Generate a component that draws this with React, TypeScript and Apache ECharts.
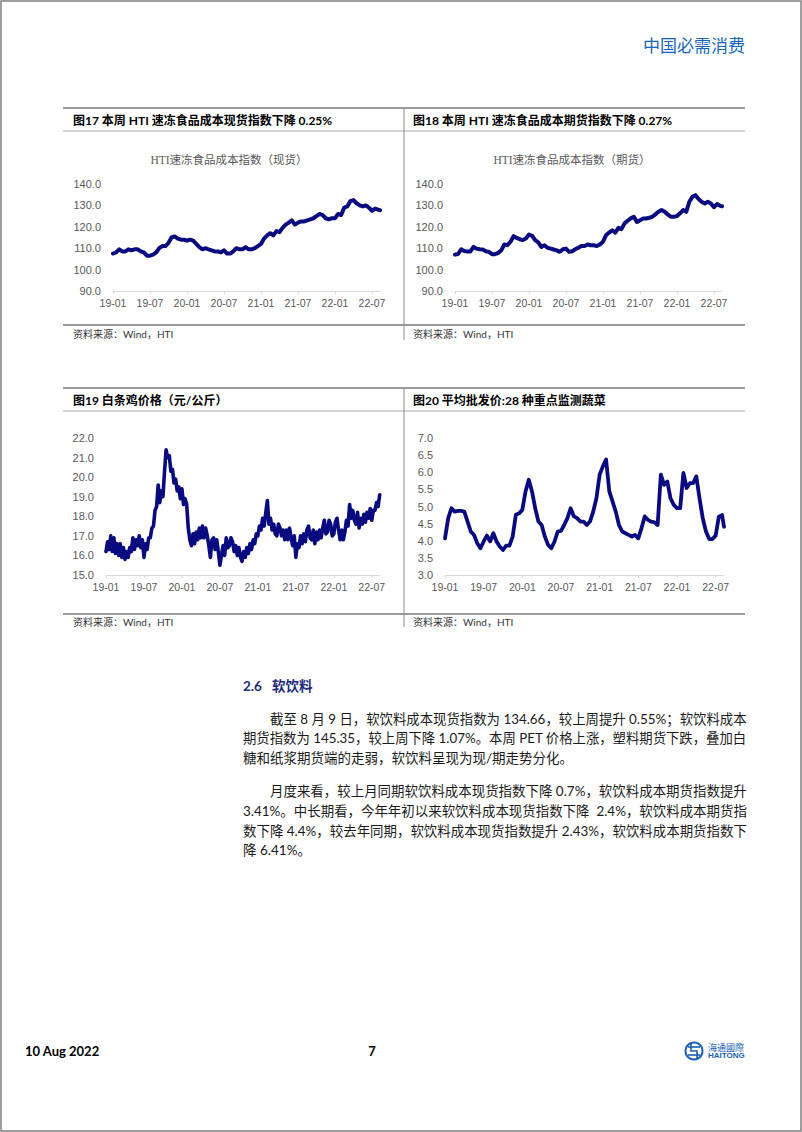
import { useEffect, useRef } from "react";
import * as echarts from "echarts";

// ---------- data ----------
const X_TICK_LABELS = ["19-01", "19-07", "20-01", "20-07", "21-01", "21-07", "22-01", "22-07"];
const X_TICK_STEP = 6; // months between labels
const X_END = 43.3; // months since 2019-01 (last obs. 2022-08-09)

// HTI 速冻食品成本指数（现货）, half-month observations
const SPOT_STEP = 0.5;
const SPOT_INDEX = [
  107.5, 108, 109.5, 108.5, 108.5, 109.5, 109, 109.5, 109.5, 108.5,
  108, 106.5, 106.5, 107, 108, 110, 111, 111, 112.5, 115,
  115.5, 114.5, 114, 114, 113.5, 114, 113.5, 112, 110.5, 109.5,
  110, 109.5, 109, 108.5, 108.5, 108, 109, 107.5, 107.5, 108.5,
  110, 109.5, 109.5, 110.5, 109.5, 109.5, 110, 111, 112, 114.5,
  116, 117, 116, 118, 117.5, 119.5, 121, 122, 123, 121,
  122, 122.5, 122.5, 123, 123.5, 124, 125, 126, 125.5, 124,
  123.5, 124, 124, 126, 125.5, 129, 129.5, 132, 132.5, 131,
  130, 129.5, 130, 129, 127.5, 128.5, 128, 127.8,
];

// HTI 速冻食品成本指数（期货）
const FUT_STEP = 0.5;
const FUT_INDEX = [
  107, 107.3, 109.5, 108.7, 108.5, 108.5, 110.6, 109.8, 109.5, 109.4,
  108.6, 108.3, 107.2, 107.2, 107.8, 109, 111.7, 111.4, 113, 115.6,
  114.8, 114.2, 113.8, 114.5, 116.4, 115.8, 113.8, 112.7, 110.6, 111.4,
  110.2, 109.8, 109.4, 109, 108.3, 109.5, 109.8, 108.3, 108.6, 109.5,
  110.2, 111, 111, 111.7, 111.4, 111.4, 111, 111.7, 113, 116.1,
  117.3, 118.4, 117.3, 119.5, 118.9, 121.6, 122.8, 124, 124.7, 122.3,
  123.1, 123.9, 123.9, 124.2, 124.7, 125.8, 127, 127.8, 127, 125.8,
  124.7, 124.7, 125, 126.3, 127.8, 127, 131.7, 134, 134.8, 133,
  131.7, 130.9, 131.7, 130.9, 129.2, 130.6, 129.8, 129.6,
];

// 白条鸡价格（元/公斤）, quarter-month observations
const CHICKEN_STEP = 0.25;
const CHICKEN_PRICE = [
  16.2, 16.7, 16.3, 17.0, 16.2, 16.9, 16.1, 16.6, 16.0, 16.6, 15.9, 16.4, 15.8, 16.2, 15.9, 16.4, 16.2, 16.9, 16.3, 16.8,
  16.5, 17.0, 16.4, 16.8, 15.9, 16.6, 16.3, 16.9, 16.9, 17.4, 17.5, 18.3, 18.5, 19.6, 18.7, 19.3, 19.0, 20.3, 21.4, 21.0,
  21.1, 20.3, 20.4, 19.7, 19.9, 19.3, 19.5, 18.9, 19.4, 18.6, 18.9, 18.6, 17.4, 16.8, 16.5, 17.1, 16.6, 17.2, 16.8, 17.4,
  16.9, 17.5, 16.9, 17.4, 17.0, 16.5, 15.9, 16.8, 16.9, 16.3, 16.8, 16.2, 15.5, 16.0, 16.5, 16.0, 16.9, 16.4, 16.5, 16.9,
  16.7, 16.2, 16.5, 16.0, 16.4, 15.9, 15.7, 16.2, 15.9, 16.4, 16.1, 16.6, 16.3, 16.8, 16.6, 17.1, 17.0, 17.5, 17.3, 17.9,
  17.5, 18.2, 18.8, 17.6, 17.9, 17.3, 17.6, 17.1, 17.0, 17.6, 17.4, 17.0, 17.3, 16.8, 17.3, 16.8, 17.4, 16.9, 16.5, 17.0,
  15.9, 16.6, 16.4, 17.0, 16.6, 17.1, 16.7, 17.3, 17.5, 16.9, 16.8, 17.3, 16.6, 17.2, 16.8, 17.3, 16.9, 17.4, 17.8, 17.1,
  17.2, 17.8, 17.6, 17.0, 17.1, 17.7, 17.9, 17.3, 16.8, 17.3, 16.8, 17.2, 17.8, 17.5, 18.6, 17.9, 18.3, 17.8, 17.6, 18.2,
  17.4, 17.9, 17.6, 18.1, 17.7, 18.2, 17.9, 18.4, 17.8, 18.3, 18.3, 18.7, 18.5, 19.1,
];

// 平均批发价:28种重点监测蔬菜
const VEG_STEP = 0.5;
const VEG_PRICE = [
  4.07, 4.66, 4.95, 4.85, 4.87, 4.87, 4.85, 4.56, 4.27, 4.17,
  3.93, 3.78, 3.98, 4.15, 3.98, 4.22, 3.98, 3.83, 3.73, 3.86,
  3.86, 4.12, 4.76, 4.8, 4.9, 5.44, 5.78, 5.44, 4.95, 4.56,
  4.46, 4.12, 3.88, 3.78, 3.98, 4.27, 4.29, 4.46, 4.66, 4.95,
  4.71, 4.66, 4.56, 4.56, 4.46, 4.56, 4.85, 5.24, 5.93, 6.17,
  6.37, 5.44, 5.15, 4.85, 4.46, 4.27, 4.22, 4.17, 4.12, 4.17,
  4.07, 4.37, 4.71, 4.61, 4.56, 4.54, 4.46, 5.93, 5.63, 5.73,
  5.24, 5.05, 4.95, 4.95, 5.98, 5.54, 5.68, 5.68, 5.88, 5.24,
  4.66, 4.27, 4.05, 4.05, 4.15, 4.7, 4.75, 4.41,
];

// y-axis ranges [min, max, interval]
const Y_SPOT = [90, 140, 10];
const Y_FUT = [90, 140, 10];
const Y_CHICKEN = [15, 22, 1];
const Y_VEG = [3, 7, 0.5];

// ---------- texts ----------
const HEADER = "中国必需消费";
const FIG_TITLES = [
  "图17 本周 HTI 速冻食品成本现货指数下降 0.25%",
  "图18 本周 HTI 速冻食品成本期货指数下降 0.27%",
  "图19 白条鸡价格（元/公斤）",
  "图20 平均批发价:28 种重点监测蔬菜",
];
const INNER_TITLES = ["HTI速冻食品成本指数（现货）", "HTI速冻食品成本指数（期货）"];
const SOURCE = "资料来源：Wind，HTI";
const SECTION_NO = "2.6";
const SECTION_NAME = "软饮料";
const PARAGRAPHS = [
  [
    "截至 8 月 9 日，软饮料成本现货指数为 134.66，较上周提升 0.55%；软饮料成本",
    "期货指数为 145.35，较上周下降 1.07%。本周 PET 价格上涨，塑料期货下跌，叠加白",
    "糖和纸浆期货端的走弱，软饮料呈现为现/期走势分化。",
  ],
  [
    "月度来看，较上月同期软饮料成本现货指数下降 0.7%，软饮料成本期货指数提升",
    "3.41%。中长期看，今年年初以来软饮料成本现货指数下降  2.4%，软饮料成本期货指",
    "数下降 4.4%，较去年同期，软饮料成本现货指数提升 2.43%，软饮料成本期货指数下",
    "降 6.41%。",
  ],
];
const FOOTER_DATE = "10 Aug 2022";
const PAGE_NO = "7";
const LOGO_CN = "海通國際";
const LOGO_EN = "HAITONG";

// ---------- styles ----------
const LINE_COLOR = "#0a0a80";
const AXIS_FONT = '"Liberation Sans", Arial, sans-serif';
const CJK_FONT = 'Lato, "Noto Sans CJK SC", sans-serif';
const SERIF_FONT = '"Liberation Serif", "Noto Sans CJK SC", serif';
const LABEL_COLOR = "#595959";

const GRIDS = [
  { left: 113, top: 184, width: 267, height: 107 },
  { left: 455, top: 184, width: 267, height: 107 },
  { left: 106, top: 438, width: 274, height: 137 },
  { left: 445, top: 438, width: 279, height: 137 },
];

function xAxis(gridIndex: number) {
  return {
    type: "value",
    gridIndex,
    min: 0,
    max: X_END,
    interval: X_TICK_STEP,
    axisLine: { show: true, lineStyle: { color: "#d9d9d9", width: 1 } },
    axisTick: { show: true, length: 3, lineStyle: { color: "#d9d9d9" } },
    splitLine: { show: false },
    axisLabel: {
      color: LABEL_COLOR,
      fontSize: 10.5,
      fontFamily: AXIS_FONT,
      margin: 6,
      showMaxLabel: false,
      formatter: (v: number) => {
        const k = Math.round(v / X_TICK_STEP);
        return Math.abs(v - k * X_TICK_STEP) < 1e-6 ? X_TICK_LABELS[k] ?? "" : "";
      },
    },
  };
}

function yAxis(gridIndex: number, r: number[]) {
  return {
    type: "value",
    gridIndex,
    min: r[0],
    max: r[1],
    interval: r[2],
    axisLine: { show: false },
    axisTick: { show: false },
    splitLine: { show: false },
    axisLabel: {
      color: LABEL_COLOR,
      fontSize: 11,
      fontFamily: AXIS_FONT,
      margin: 12,
      formatter: (v: number) => v.toFixed(1),
    },
  };
}

function lineSeries(i: number, values: number[], step: number, width: number) {
  return {
    type: "line",
    xAxisIndex: i,
    yAxisIndex: i,
    data: values.map((v, k) => [Math.min(k * step, X_END), v]),
    showSymbol: false,
    symbol: "none",
    clip: false,
    lineStyle: { color: LINE_COLOR, width, join: "round", cap: "round" },
    emphasis: { disabled: true },
  };
}

function txt(
  text: string,
  x: number,
  y: number,
  o: { size?: number; weight?: string; color?: string; family?: string; align?: string; scaleX?: number } = {}
) {
  const align = o.align ?? "left";
  return {
    type: "text",
    x,
    y,
    scaleX: o.scaleX ?? 1,
    silent: true,
    style: {
      text,
      fill: o.color ?? "#000",
      fontSize: o.size ?? 12,
      fontWeight: o.weight ?? "normal",
      fontFamily: o.family ?? CJK_FONT,
      align,
      verticalAlign: "middle",
      textAlign: align,
      textVerticalAlign: "middle",
    },
  };
}

function hline(x1: number, x2: number, y: number, color: string, w: number) {
  return { type: "line", silent: true, shape: { x1, y1: y, x2, y2: y }, style: { stroke: color, lineWidth: w } };
}
function vline(x: number, y1: number, y2: number, color: string, w: number) {
  return { type: "line", silent: true, shape: { x1: x, y1, x2: x, y2 }, style: { stroke: color, lineWidth: w } };
}

let measureCtx: CanvasRenderingContext2D | null = null;
function measure(text: string, font: string) {
  if (!measureCtx) measureCtx = document.createElement("canvas").getContext("2d");
  if (!measureCtx) return 0;
  measureCtx.font = font;
  return measureCtx.measureText(text).width;
}

function buildGraphic() {
  const g: any[] = [];
  // page frame
  g.push({ type: "rect", silent: true, shape: { x: 1, y: 1, width: 800, height: 1130 }, style: { fill: "none", stroke: "#808080", lineWidth: 1.5 } });
  // header
  g.push(txt(HEADER, 745, 45, { size: 17, color: "#1565c0", align: "right" }));

  // chart blocks
  const blocks = [
    { top: 108, sub: 131, bottom: 325, divEnd: 340, titleY: 120, srcY: 334 },
    { top: 388, sub: 411, bottom: 614, divEnd: 627, titleY: 400, srcY: 622 },
  ];
  blocks.forEach((b, bi) => {
    g.push(hline(63, 745, b.top, "#7a7a7a", 1.5));
    g.push(hline(63, 745, b.sub, "#a6a6a6", 1));
    g.push(hline(63, 745, b.bottom, "#7a7a7a", 1.5));
    g.push(vline(404, b.top, b.divEnd, "#8c8c8c", 1));
    g.push(txt(FIG_TITLES[bi * 2], 73, b.titleY, { size: 12, weight: "bold" }));
    g.push(txt(FIG_TITLES[bi * 2 + 1], 413, b.titleY, { size: 12, weight: "bold" }));
    g.push(txt(SOURCE, 73, b.srcY, { size: 10, color: "#333" }));
    g.push(txt(SOURCE, 413, b.srcY, { size: 10, color: "#333" }));
  });
  g.push(txt(INNER_TITLES[0], 229, 160, { size: 11.5, color: LABEL_COLOR, family: SERIF_FONT, align: "center" }));
  g.push(txt(INNER_TITLES[1], 572, 160, { size: 11.5, color: LABEL_COLOR, family: SERIF_FONT, align: "center" }));

  // section text
  g.push(txt(SECTION_NO, 243, 686, { size: 13.5, weight: "bold", color: "#1c2a80" }));
  g.push(txt(SECTION_NAME, 272, 686, { size: 13.5, weight: "bold", color: "#1c2a80" }));
  const bodySize = 13.5;
  const bodyFont = `${bodySize}px ${CJK_FONT}`;
  const left = 243;
  const right = 747;
  const lineH = 19.8;
  const paraStarts = [718.5, 791];
  PARAGRAPHS.forEach((lines, pi) => {
    let y = paraStarts[pi];
    lines.forEach((line, li) => {
      const x0 = li === 0 ? left + 2 * bodySize : left;
      const last = li === lines.length - 1;
      let sx = 1;
      if (!last) {
        const w = measure(line, bodyFont);
        if (w > 0) sx = Math.max(0.9, Math.min(1.1, (right - x0) / w));
      }
      g.push(txt(line, x0, y, { size: bodySize, color: "#1a1a1a", scaleX: sx }));
      y += lineH;
    });
  });

  // footer
  g.push(txt(FOOTER_DATE, 25, 1051, { size: 13, weight: "bold" }));
  g.push(txt(PAGE_NO, 372, 1051, { size: 13, weight: "bold", align: "center" }));
  // logo
  const lc = "#1a5fb4";
  g.push({ type: "circle", silent: true, shape: { cx: 694, cy: 1051, r: 8.5 }, style: { fill: "none", stroke: lc, lineWidth: 2 } });
  g.push({ type: "polyline", silent: true, shape: { points: [[688, 1047], [700, 1047]] }, style: { stroke: lc, lineWidth: 1.6, fill: "none" } });
  g.push({ type: "polyline", silent: true, shape: { points: [[688, 1055], [700, 1055]] }, style: { stroke: lc, lineWidth: 1.6, fill: "none" } });
  g.push({ type: "polyline", silent: true, shape: { points: [[691, 1044], [691, 1051], [697, 1051], [697, 1058]] }, style: { stroke: lc, lineWidth: 1.6, fill: "none" } });
  g.push(txt(LOGO_CN, 708, 1047, { size: 9, color: lc }));
  g.push(txt(LOGO_EN, 708, 1055.5, { size: 8, weight: "bold", color: lc, family: AXIS_FONT }));
  return g;
}

function buildOption() {
  return {
    animation: false,
    backgroundColor: "#ffffff",
    grid: GRIDS.map((gr) => ({ ...gr, containLabel: false })),
    xAxis: [0, 1, 2, 3].map((i) => xAxis(i)),
    yAxis: [yAxis(0, Y_SPOT), yAxis(1, Y_FUT), yAxis(2, Y_CHICKEN), yAxis(3, Y_VEG)],
    series: [
      lineSeries(0, SPOT_INDEX, SPOT_STEP, 4),
      lineSeries(1, FUT_INDEX, FUT_STEP, 4),
      lineSeries(2, CHICKEN_PRICE, CHICKEN_STEP, 3.6),
      lineSeries(3, VEG_PRICE, VEG_STEP, 3.8),
    ],
    graphic: { elements: buildGraphic() },
  };
}

export default function App() {
  const ref = useRef<HTMLDivElement>(null);
  useEffect(() => {
    if (!ref.current) return;
    const chart = echarts.init(ref.current, null, { renderer: "svg" });
    chart.setOption(buildOption() as any);
    return () => chart.dispose();
  }, []);
  return (
    <div
      ref={ref}
      style={{ position: "absolute", left: 0, top: 0, width: 802, height: 1132, background: "#fff" }}
    />
  );
}
